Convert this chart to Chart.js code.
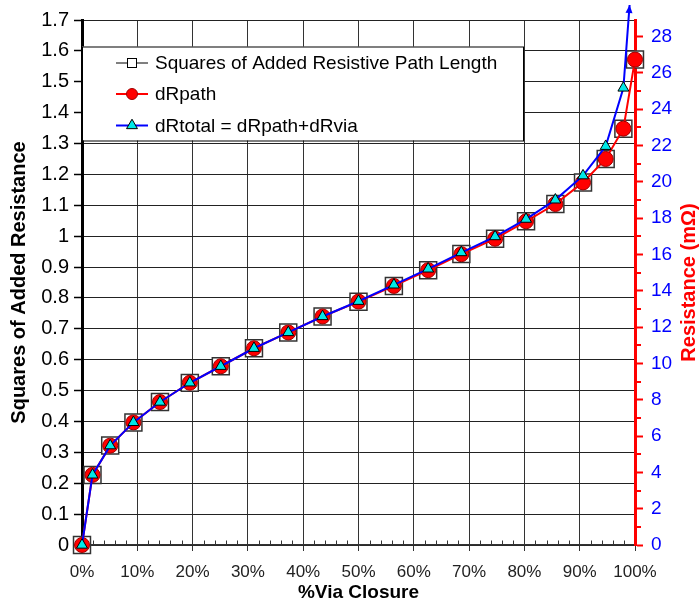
<!DOCTYPE html>
<html>
<head>
<meta charset="utf-8">
<script src="https://cdn.jsdelivr.net/npm/chart.js@4.4.1/dist/chart.umd.min.js"></script>
<style>
  html, body { margin: 0; padding: 0; background: #ffffff; }
  #wrap { width: 699px; height: 602px; position: relative; }
</style>
</head>
<body>
<div id="wrap"><canvas id="chart" width="699" height="602"></canvas></div>
<script>
// Via closure (%) at each sample
const viaClosurePct = [0, 1.9, 5.1, 9.3, 14.1, 19.5, 25.1, 31.1, 37.3, 43.5, 50.0, 56.4, 62.6, 68.6, 74.7, 80.3, 85.6, 90.6, 94.7, 97.9, 100];

// Added resistive path length, in squares (left axis)
const squares = [0, 0.227, 0.322, 0.397, 0.463, 0.525, 0.579, 0.637, 0.688, 0.740, 0.788, 0.839, 0.890, 0.942, 0.992, 1.048, 1.104, 1.174, 1.250, 1.348, 1.572];

// Path resistance increase, mOhm (right axis)
const dRpath = [0, 3.86, 5.47, 6.75, 7.87, 8.93, 9.84, 10.83, 11.70, 12.58, 13.40, 14.26, 15.13, 16.01, 16.86, 17.82, 18.77, 19.96, 21.25, 22.92, 26.72];

// Total resistance increase (path + via), mOhm (right axis); the last one runs off scale
const dRtotal = [0, 3.86, 5.47, 6.75, 7.87, 8.93, 9.84, 10.83, 11.70, 12.58, 13.42, 14.32, 15.20, 16.10, 16.98, 17.94, 19.00, 20.33, 21.95, 25.16, 33.7];

const seriesLabels = ['Squares of Added Resistive Path Length', 'dRpath', 'dRtotal = dRpath+dRvia'];
const rightAxisTitle = 'Resistance (mΩ)';

// Axis ranges: 1 square of path corresponds to 17 mOhm
const squaresMax = 1.7;
const mOhmPerSquare = 17;

const FONT = "'Liberation Sans', Arial, Helvetica, sans-serif";
Chart.defaults.font.family = FONT;

const toPoints = (ys) => viaClosurePct.map((x, i) => ({ x: x, y: ys[i] }));

// minor ticks, boxed legend, right-axis title and the off-scale arrowhead
const decorations = {
  id: 'decorations',
  beforeDatasetsDraw(chart) {
    const { ctx, chartArea: ca, scales } = chart;
    ctx.save();
    // x minor ticks every 2 %
    ctx.strokeStyle = '#333';
    ctx.lineWidth = 1;
    for (let v = 2; v < 100; v += 2) {
      if (v % 10 === 0) continue;
      const x = Math.round(scales.x.getPixelForValue(v)) + 0.5;
      ctx.beginPath();
      ctx.moveTo(x, ca.bottom);
      ctx.lineTo(x, ca.bottom - 4.5);
      ctx.stroke();
    }
    // right axis minor ticks at odd values
    ctx.strokeStyle = '#FF0000';
    ctx.lineWidth = 2;
    for (let v = 1; v < scales.y2.max; v += 2) {
      const y = Math.round(scales.y2.getPixelForValue(v));
      ctx.beginPath();
      ctx.moveTo(ca.right, y);
      ctx.lineTo(ca.right + 6, y);
      ctx.stroke();
    }

    // right axis title, reading bottom to top
    ctx.save();
    ctx.translate(689, (ca.top + ca.bottom) / 2);
    ctx.rotate(-Math.PI / 2);
    ctx.font = 'bold 20px ' + FONT;
    ctx.fillStyle = '#FF0000';
    ctx.textAlign = 'center';
    ctx.textBaseline = 'middle';
    ctx.fillText(rightAxisTitle, 0, 0);
    ctx.restore();

    // legend box
    const bx = ca.left, by = ca.top + 26.5, bw = 441, bh = 94;
    ctx.fillStyle = '#ffffff';
    ctx.fillRect(bx, by, bw, bh);
    ctx.strokeStyle = '#000';
    ctx.lineWidth = 1;
    ctx.strokeRect(bx + 0.5, by + 0.5, bw, bh);

    const rows = [by + 16.5, by + 47.5, by + 79];
    const lineX0 = bx + 34, lineX1 = bx + 66, mx = bx + 50, tx = bx + 73;
    const styles = [
      { line: '#000', lw: 1 },
      { line: '#FF0000', lw: 2 },
      { line: '#0000FF', lw: 2 }
    ];
    ctx.font = '19px ' + FONT;
    ctx.textBaseline = 'middle';
    ctx.textAlign = 'left';
    rows.forEach((y, i) => {
      ctx.strokeStyle = styles[i].line;
      ctx.lineWidth = styles[i].lw;
      ctx.beginPath();
      ctx.moveTo(lineX0, y);
      ctx.lineTo(lineX1, y);
      ctx.stroke();
      ctx.lineWidth = 1;
      if (i === 0) {
        ctx.fillStyle = '#fff';
        ctx.fillRect(mx - 4.5, y - 4.5, 9, 9);
        ctx.strokeStyle = '#000';
        ctx.strokeRect(mx - 4.5, y - 4.5, 9, 9);
      } else if (i === 1) {
        ctx.fillStyle = '#FF0000';
        ctx.strokeStyle = '#A00000';
        ctx.beginPath();
        ctx.arc(mx, y, 5.5, 0, Math.PI * 2);
        ctx.fill();
        ctx.stroke();
      } else {
        const r = 6.3;
        ctx.fillStyle = '#00E8E8';
        ctx.strokeStyle = '#000';
        ctx.beginPath();
        ctx.moveTo(mx, y - r);
        ctx.lineTo(mx + r * 0.866, y + r * 0.5);
        ctx.lineTo(mx - r * 0.866, y + r * 0.5);
        ctx.closePath();
        ctx.fill();
        ctx.stroke();
      }
      ctx.fillStyle = '#000';
      ctx.fillText(seriesLabels[i], tx, y + 1);
    });
    ctx.restore();
  },
  afterDatasetsDraw(chart) {
    const { ctx, chartArea: ca } = chart;
    const meta = chart.getDatasetMeta(2);
    const n = meta.data.length;
    const p1 = meta.data[n - 2], p2 = meta.data[n - 1];
    const yTip = ca.top - 15;
    if (p2.y >= yTip) return;
    const t = (p1.y - yTip) / (p1.y - p2.y);
    const xTip = p1.x + t * (p2.x - p1.x);
    const ang = Math.atan2(p2.y - p1.y, p2.x - p1.x);
    const len = 8, half = 3.5;
    ctx.save();
    ctx.fillStyle = '#0000FF';
    ctx.beginPath();
    ctx.moveTo(xTip, yTip);
    ctx.lineTo(xTip - len * Math.cos(ang) + half * Math.sin(ang), yTip - len * Math.sin(ang) - half * Math.cos(ang));
    ctx.lineTo(xTip - len * Math.cos(ang) - half * Math.sin(ang), yTip - len * Math.sin(ang) + half * Math.cos(ang));
    ctx.closePath();
    ctx.fill();
    ctx.restore();
  }
};

new Chart(document.getElementById('chart'), {
  type: 'line',
  data: {
    datasets: [
      {
        label: seriesLabels[0],
        data: toPoints(squares),
        yAxisID: 'y',
        order: 3,
        showLine: false,
        pointStyle: 'rect',
        pointRadius: 12,
        pointBackgroundColor: '#ffffff',
        pointBorderColor: '#333333',
        pointBorderWidth: 1.5,
        borderColor: '#000',
        clip: false
      },
      {
        label: seriesLabels[1],
        data: toPoints(dRpath),
        yAxisID: 'y2',
        order: 2,
        borderColor: '#FF0000',
        borderWidth: 2,
        tension: 0,
        pointStyle: 'circle',
        pointRadius: 7.5,
        pointBackgroundColor: '#FF0000',
        pointBorderColor: '#A00000',
        pointBorderWidth: 1,
        clip: false
      },
      {
        label: seriesLabels[2],
        data: toPoints(dRtotal),
        yAxisID: 'y2',
        order: 1,
        borderColor: '#0000FF',
        borderWidth: 2,
        tension: 0,
        pointStyle: 'triangle',
        pointRadius: dRtotal.map((v, i) => (i === dRtotal.length - 1 ? 0 : 6.3)),
        pointBackgroundColor: '#00E8E8',
        pointBorderColor: '#000000',
        pointBorderWidth: 1,
        clip: { left: 20, top: 15, right: 20, bottom: 20 }
      }
    ]
  },
  options: {
    responsive: false,
    animation: false,
    events: [],
    layout: { padding: { top: 20, left: 0, right: 0, bottom: 0 } },
    plugins: {
      legend: { display: false },
      tooltip: { enabled: false }
    },
    scales: {
      x: {
        type: 'linear',
        position: 'bottom',
        min: 0,
        max: 100,
        ticks: {
          stepSize: 10,
          callback: (v) => v + '%',
          color: '#222',
          font: { size: 17 },
          padding: 11,
          maxRotation: 0,
          autoSkip: false
        },
        grid: { color: '#333', lineWidth: 1, tickLength: 6, tickColor: '#333' },
        border: { color: '#333', width: 1.5 },
        title: {
          display: true,
          text: '%Via Closure',
          color: '#000',
          font: { size: 19, weight: 'bold', lineHeight: 1 },
          padding: { top: 0, bottom: 0 }
        },
        afterFit: (s) => { s.height = 57; }
      },
      y: {
        position: 'left',
        min: 0,
        max: squaresMax,
        ticks: {
          stepSize: 0.1,
          callback: (v) => String(Math.round(v * 10) / 10),
          color: '#000',
          font: { size: 20 },
          padding: 5
        },
        grid: { color: '#222', lineWidth: 1, tickLength: 8, tickColor: '#000', tickWidth: 1.5 },
        border: { color: '#000', width: 3 },
        title: {
          display: true,
          text: 'Squares of Added Resistance',
          color: '#000',
          font: { size: 20, weight: 'bold' },
          padding: { top: 7, bottom: 0 }
        },
        afterFit: (s) => { s.width = 82; }
      },
      y2: {
        position: 'right',
        min: 0,
        max: squaresMax * mOhmPerSquare,
        ticks: {
          stepSize: 2,
          includeBounds: false,
          color: '#0000FF',
          font: { size: 19 },
          padding: 8
        },
        grid: { drawOnChartArea: false, tickLength: 8, tickColor: '#FF0000', tickWidth: 2 },
        border: { color: '#FF0000', width: 3 },
        title: { display: false },
        afterFit: (s) => { s.width = 64; }
      }
    }
  },
  plugins: [decorations]
});
</script>
</body>
</html>
